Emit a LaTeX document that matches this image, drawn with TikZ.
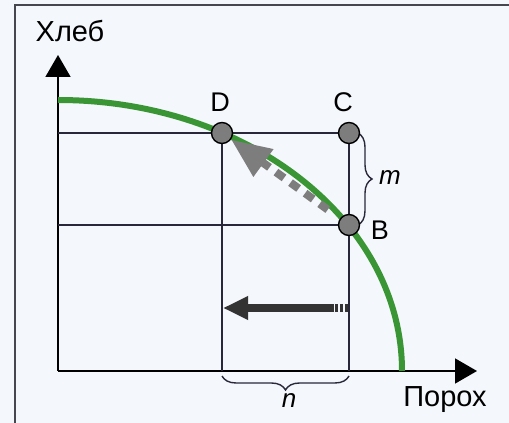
\documentclass[tikz,border=0pt]{standalone}
\usepackage{fontspec}
\setmainfont{Liberation Sans}
\usetikzlibrary{arrows.meta,decorations.pathreplacing,positioning}
\definecolor{curvegreen}{RGB}{58,150,52}
\definecolor{pointgray}{RGB}{125,125,125}
\definecolor{framegray}{RGB}{70,70,78}
\definecolor{linedark}{RGB}{40,40,58}
\definecolor{paper}{RGB}{244,247,251}

\tikzset{
  axis/.style={line width=1.6pt,-{Triangle[length=22pt,width=25pt]}},
  grid/.style={line width=1.4pt,draw=linedark},
  pnt/.style={circle,draw,line width=1.4pt,fill=pointgray,minimum size=21pt,inner sep=0pt},
  lbl/.style={font=\fontsize{27}{30}\selectfont,inner sep=0pt,anchor=base},
  axlbl/.style={font=\fontsize{29}{32}\selectfont,inner sep=0pt,anchor=base},
  var/.style={font=\fontsize{26}{30}\selectfont\itshape,inner sep=0pt,anchor=base},
  brc/.style={decorate,decoration={brace,amplitude=14pt},line width=1.4pt,draw=linedark},
  shiftarr/.style={line width=8pt,draw=pointgray,dash pattern=on 10pt off 8pt,
    shorten <=15pt,-{Triangle[length=40pt,width=32pt,fill=pointgray]}},
  backarr/.style={line width=8pt,draw=black!80,-{Triangle[length=25pt,width=22pt]}}
}

\begin{document}
\begin{tikzpicture}[x=1pt,y=1pt]
  \fill[paper] (0,0) rectangle (509,423);
  \useasboundingbox (0,0) rectangle (509,423);
  % frame
  \draw[framegray,line width=2pt] (15,0) -- (15,418) -- (509,418);

  % axes
  \coordinate (O) at (58,52);
  \coordinate (ytip) at (58,368);
  \coordinate (xtip) at (477,52);
  \draw[axis] (O) -- (ytip);
  \draw[axis] (O) -- (xtip);
  \node[axlbl] (hleb) at (70,381) {Хлеб};
  \node[axlbl] (poroh) at (445,16) {Порох};

  % production possibilities curve
  \draw[curvegreen,line width=6pt] (58,323) arc[start angle=90,end angle=0,x radius=344pt,y radius=271pt];

  % helper lines
  \coordinate (pD) at (222,290);
  \coordinate (pC) at (349,290);
  \coordinate (pB) at (349,198);
  \coordinate (yD) at (58,290);
  \coordinate (yB) at (58,198);
  \coordinate (xD) at (222,52);
  \coordinate (xB) at (349,52);
  \draw[grid] (yD) -- (pD) -- (pC) -- (pB) -- (xB);
  \draw[grid] (yB) -- (pB);
  \draw[grid] (pD) -- (xD);

  % braces
  \coordinate (mtop) at (358,290);
  \coordinate (mbot) at (358,198);
  \coordinate (nright) at (349,47);
  \coordinate (nleft) at (222,47);
  \draw[brc] (mtop) -- (mbot);
  \draw[brc] (nright) -- (nleft);
  \node[var] (m) at (390,238) {m};
  \node[var] (n) at (289,15) {n};

  % points
  \node[pnt] (D) at (pD) {};
  \node[pnt] (C) at (pC) {};
  \node[pnt] (B) at (pB) {};
  \node[lbl] (tD) at (220,311) {D};
  \node[lbl] (tC) at (343,311) {C};
  \node[lbl] (tB) at (380,183) {B};

  % shift arrows
  \draw[shiftarr] (B) -- (D);
  \coordinate (aT) at (348,115);
  \coordinate (aM) at (334,115);
  \coordinate (aH) at (223,115);
  \draw[line width=8pt,draw=black!80,dash pattern=on 3pt off 2pt] (aT) -- (aM);
  \draw[backarr] (aM) -- (aH);
\end{tikzpicture}
\end{document}
